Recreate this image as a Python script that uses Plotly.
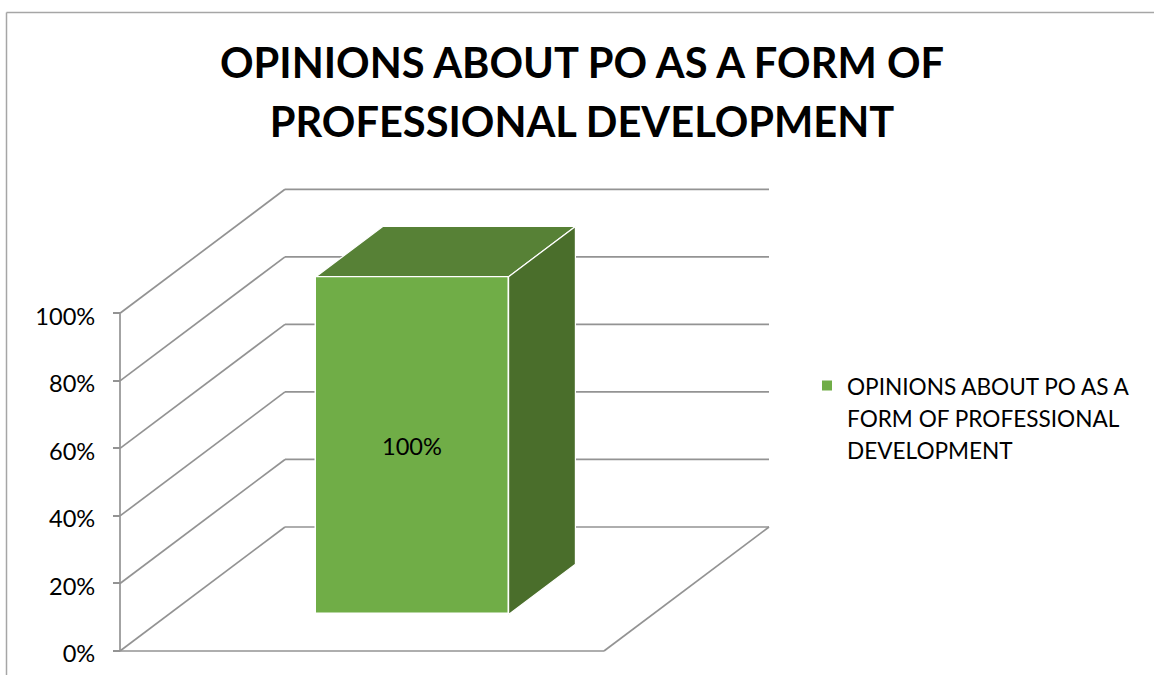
import plotly.graph_objects as go

TITLE_LINES = ["OPINIONS ABOUT PO AS A FORM OF", "PROFESSIONAL DEVELOPMENT"]
SERIES_LINES = ["OPINIONS ABOUT PO AS A", "FORM OF PROFESSIONAL", "DEVELOPMENT"]
values = [100]
tick_values = [0, 20, 40, 60, 80, 100]
tick_labels = ["0%", "20%", "40%", "60%", "80%", "100%"]

W, H = 1154, 675
FONT = "Lato, Carlito, Calibri, sans-serif"
GRID = "#939393"
FRONT, TOP, SIDE = "#70ad47", "#578136", "#4a6e2b"

# Page placement of the value/category origin and the scales of the axes.
X0_PX, Y0_PX = 120, 651
X_SCALE, Y_SCALE = 484.0, 3.377
# Oblique depth vector of the box in axis units (one full floor depth).
DX, DY = 165 / X_SCALE, 124 / Y_SCALE
# Bar footprint as fractions of the floor width and depth.
BAR_LEFT, BAR_WIDTH = 0.3043, 0.398
BAR_NEAR, BAR_FAR = 0.295, 0.70


def project(x, value, depth):
    """Oblique projection of (x, value, depth) on the 2D axes."""
    return x + depth * DX, value + depth * DY


def poly(points):
    xs, ys = zip(*[project(*p) for p in points])
    return list(xs), list(ys)


def line_shape(a, b):
    (x0, y0), (x1, y1) = project(*a), project(*b)
    return dict(type="line", layer="below", xref="x", yref="y", x0=x0, y0=y0, x1=x1, y1=y1,
                line=dict(color=GRID, width=1.7))


value = values[0]
bl, br = BAR_LEFT, BAR_LEFT + BAR_WIDTH
bar_x = project(bl + BAR_WIDTH / 2, 0, BAR_NEAR)[0]
bar_base = project(0, 0, BAR_NEAR)[1]

fig = go.Figure()
fig.add_trace(go.Bar(
    x=[bar_x],
    y=values,
    base=[bar_base],
    width=[BAR_WIDTH],
    name="<br>".join(f'<span style="font-size:22.6px">{s}</span>' for s in SERIES_LINES),
    marker=dict(color=FRONT, line=dict(color="white", width=1.5)),
    hoverinfo="skip",
))

faces = [
    (TOP, [(bl, value, BAR_NEAR), (br, value, BAR_NEAR), (br, value, BAR_FAR), (bl, value, BAR_FAR)]),
    (SIDE, [(br, 0, BAR_NEAR), (br, value, BAR_NEAR), (br, value, BAR_FAR), (br, 0, BAR_FAR)]),
]
for color, pts in faces:
    xs, ys = poly(pts + pts[:1])
    fig.add_trace(go.Scatter(x=xs, y=ys, mode="lines", fill="toself", fillcolor=color,
                             line=dict(color="white", width=1.2), showlegend=False, hoverinfo="skip"))

shapes = []
for t in tick_values:
    # Side wall diagonal and back wall rule for each value step.
    shapes.append(line_shape((0, t, 0), (0, t, 1)))
    shapes.append(line_shape((0, t, 1), (1, t, 1)))
# Value axis, front floor edge and right floor edge.
shapes.append(line_shape((0, 0, 0), (0, tick_values[-1], 0)))
shapes.append(line_shape((0, 0, 0), (1, 0, 0)))
shapes.append(line_shape((1, 0, 0), (1, 0, 1)))
# Chart frame, open on the right and at the bottom.
frame = dict(color="#a6a6a6", width=1.5)
shapes.append(dict(type="line", xref="paper", yref="paper", x0=6.5 / W, x1=6.5 / W,
                   y0=0, y1=1 - 12.5 / H, line=frame))
shapes.append(dict(type="line", xref="paper", yref="paper", x0=6.5 / W, x1=1,
                   y0=1 - 12.5 / H, y1=1 - 12.5 / H, line=frame))

title_text = "<br>".join(f'<span style="font-size:41.6px">{s}</span>' for s in TITLE_LINES)

fig.update_layout(
    width=W, height=H, autosize=False,
    margin=dict(l=0, r=0, t=0, b=0),
    paper_bgcolor="white", plot_bgcolor="white",
    font=dict(family=FONT, color="black"),
    shapes=shapes,
    showlegend=True,
    annotations=[dict(x=bar_x, y=bar_base + value / 2, xref="x", yref="y",
                      text=f"{value}%", showarrow=False,
                      font=dict(size=23.6, family=FONT, color="black"))],
    title=dict(text=f"<b>{title_text}</b>", font=dict(size=45, family=FONT, color="black"),
               x=582 / W, xanchor="center", xref="paper",
               y=1 - 78 / H, yanchor="middle", yref="paper"),
    legend=dict(x=807 / W, xanchor="left", y=1 - 417.5 / H, yanchor="middle",
                font=dict(size=24.6, family=FONT, color="black"),
                bgcolor="rgba(0,0,0,0)", itemwidth=30, itemsizing="constant", valign="top"),
    xaxis=dict(range=[-X0_PX / X_SCALE, (W - X0_PX) / X_SCALE], domain=[0, 1],
               visible=False, fixedrange=True),
    yaxis=dict(range=[-(H - Y0_PX) / Y_SCALE, Y0_PX / Y_SCALE], domain=[0, 1],
               anchor="free", position=X0_PX / W, side="left",
               tickmode="array", tickvals=tick_values, ticktext=tick_labels,
               ticks="outside", ticklen=7, tickwidth=1.7, tickcolor=GRID,
               ticklabelstandoff=13, ticklabelshift=3,
               tickfont=dict(size=23.6, family=FONT, color="black"),
               showgrid=False, zeroline=False, showline=False, fixedrange=True),
    bargap=0,
)

fig.write_html("out.html", config=dict(displayModeBar=False))
